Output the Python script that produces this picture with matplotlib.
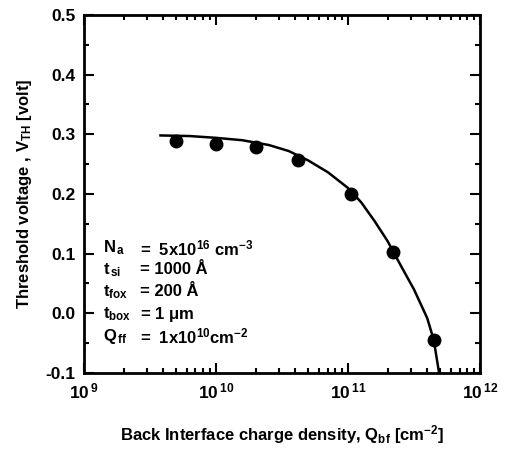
import numpy as np
import matplotlib
matplotlib.use("Agg")
import matplotlib.pyplot as plt
from matplotlib.ticker import LogLocator, MultipleLocator, FixedLocator, FuncFormatter

plt.rcParams['font.family'] = ['Liberation Sans', 'DejaVu Sans']
plt.rcParams['font.weight'] = 'bold'
plt.rcParams['mathtext.fontset'] = 'custom'
plt.rcParams['mathtext.rm'] = 'Liberation Sans:bold'
plt.rcParams['mathtext.it'] = 'Liberation Sans:bold'
plt.rcParams['mathtext.bf'] = 'Liberation Sans:bold'

# measured points
q_meas = [5e9, 1e10, 2e10, 4.2e10, 1.05e11, 2.2e11, 4.5e11]
vth_meas = [0.288, 0.284, 0.278, 0.257, 0.200, 0.102, -0.045]

# model curve (log10 Qbf, Vth)
curve_logq = [9.58, 9.8, 10.0, 10.2, 10.4, 10.55, 10.7, 10.85, 11.0, 11.1, 11.2,
              11.3, 11.4, 11.5, 11.6, 11.65, 11.69]
curve_vth = [0.298, 0.297, 0.294, 0.290, 0.282, 0.272, 0.256, 0.236, 0.210, 0.186,
             0.155, 0.121, 0.080, 0.040, -0.008, -0.045, -0.100]

x_major = [1e9, 1e10, 1e11, 1e12]
y_major = [-0.1, 0.0, 0.1, 0.2, 0.3, 0.4, 0.5]

param_names = [r'N$_{\,a}$', r't$_{\,si}$', r't$_{fox}$', r't$_{box}$', r'Q$_{\,ff}$']
param_values = [r'=  5x10$^{16}$ cm$^{-3}$', r'= 1000 Å', r'= 200 Å',
                r'= 1 $\mu$m', r'=  1x10$^{10}$cm$^{-2}$']

fig = plt.figure(figsize=(5.31, 4.5), dpi=100)
ax = fig.add_axes([0.158, 0.171, 0.746, 0.796])

ax.plot(10 ** np.array(curve_logq), curve_vth, color='black', lw=1.8)
ax.plot(q_meas, vth_meas, 'o', color='black', ms=9)

ax.set_xscale('log')
ax.set_xlim(1e9, 1e12)
ax.set_ylim(-0.1, 0.5)
ax.xaxis.set_major_locator(FixedLocator(x_major))
ax.xaxis.set_minor_locator(LogLocator(base=10, subs=np.arange(2, 10)))
ax.xaxis.set_major_formatter(FuncFormatter(lambda v, p: r'$10^{\,%d}$' % round(np.log10(v))))
ax.xaxis.set_minor_formatter(FuncFormatter(lambda v, p: ''))
ax.yaxis.set_major_locator(FixedLocator(y_major))
ax.yaxis.set_minor_locator(MultipleLocator(0.05))
ax.yaxis.set_major_formatter(FuncFormatter(lambda v, p: '%.1f' % v))

ax.tick_params(which='both', direction='in', top=True, right=True, width=1.5,
               labelsize=12.5)
ax.tick_params(which='major', length=7, pad=6)
ax.tick_params(which='minor', length=3.5)
for s in ax.spines.values():
    s.set_linewidth(2)

ax.set_ylabel(r'Threshold voltage , V$_{TH}$ [volt]', fontsize=12, fontweight='bold', labelpad=8)
ax.set_xlabel(r'Back Interface charge density, Q$_{bf}$ [cm$^{-2}$]', fontsize=12,
              fontweight='bold', labelpad=16)

for i, (n, v) in enumerate(zip(param_names, param_values)):
    y = 248 + i * 22
    fig.text(103 / 531, 1 - y / 450, n, fontsize=12, fontweight='bold', va='center')
    fig.text(140 / 531, 1 - y / 450, v, fontsize=12, fontweight='bold', va='center')

fig.savefig('out.png', dpi=100)
